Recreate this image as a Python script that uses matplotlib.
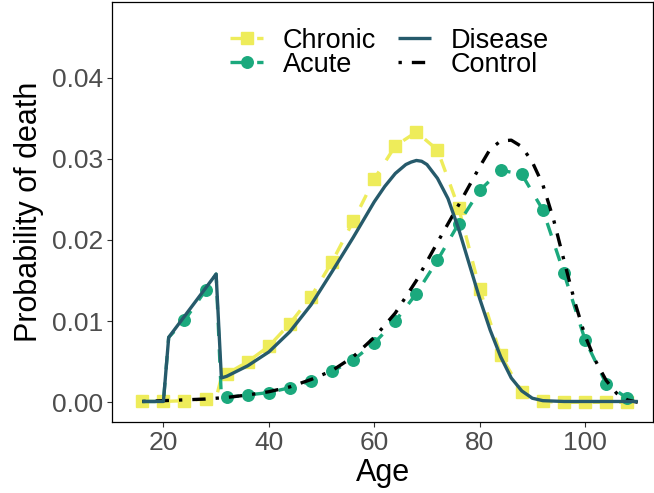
import matplotlib
matplotlib.use("Agg")
import matplotlib.pyplot as plt
from matplotlib.ticker import FormatStrFormatter

plt.rcParams['font.family'] = ['Liberation Sans', 'DejaVu Sans']

# ---- data ----
chronic_age = [16, 20, 24, 28, 30, 31, 32, 36, 40, 44, 48, 52, 56, 60, 64, 68,
               72, 76, 80, 84, 88, 92, 96, 100, 104, 108]
chronic_p = [0.0001, 0.0001, 0.0002, 0.0004, 0.0005, 0.0031, 0.0035, 0.0050,
             0.0069, 0.0097, 0.0130, 0.0173, 0.0223, 0.0275, 0.0316, 0.0333,
             0.0311, 0.0240, 0.0140, 0.0058, 0.0013, 0.0001, 0.0000, 0.0000,
             0.0000, 0.0000]
chronic_marked = [16, 20, 24, 28, 32, 36, 40, 44, 48, 52, 56, 60, 64, 68, 72,
                  76, 80, 84, 88, 92, 96, 100, 104, 108]

acute_age = [16, 20, 21, 24, 28, 30, 31, 32, 36, 40, 44, 48, 52, 56, 60, 64,
             68, 72, 76, 80, 84, 88, 92, 96, 100, 104, 108]
acute_p = [0.0001, 0.0001, 0.0080, 0.0101, 0.0138, 0.0158, 0.0005, 0.0006,
           0.0009, 0.0012, 0.0018, 0.0026, 0.0038, 0.0052, 0.0073, 0.0100,
           0.0134, 0.0175, 0.0220, 0.0261, 0.0286, 0.0281, 0.0237, 0.0159,
           0.0077, 0.0023, 0.0005]
acute_marked = [24, 28, 32, 36, 40, 44, 48, 52, 56, 60, 64, 68, 72, 76, 80,
                84, 88, 92, 96, 100, 104, 108]

disease_age = [16, 20, 21, 30, 31, 32, 36, 40, 44, 48, 52, 56, 60, 62, 64, 66,
               67, 68, 69, 70, 72, 74, 76, 78, 80, 82, 84, 86, 88, 90, 92, 96,
               100, 104, 110]
disease_p = [0.0001, 0.0001, 0.0080, 0.0158, 0.0030, 0.0032, 0.0045, 0.0062,
             0.0087, 0.0120, 0.0161, 0.0203, 0.0247, 0.0266, 0.0282, 0.0293,
             0.0296, 0.0298, 0.0297, 0.0293, 0.0276, 0.0251, 0.0214, 0.0171,
             0.0128, 0.0089, 0.0056, 0.0030, 0.0014, 0.0005, 0.0002, 0.0001,
             0.0001, 0.0001, 0.0001]

control_age = [16, 20, 24, 28, 32, 36, 40, 44, 48, 52, 56, 60, 64, 68, 72, 76,
               80, 82, 84, 86, 88, 90, 92, 94, 96, 98, 100, 102, 104, 106,
               108, 110]
control_p = [0.0001, 0.0002, 0.0003, 0.0004, 0.0006, 0.0009, 0.0013, 0.0019,
             0.0028, 0.0039, 0.0056, 0.0080, 0.0110, 0.0150, 0.0197, 0.0243,
             0.0290, 0.0312, 0.0322, 0.0323, 0.0315, 0.0296, 0.0268, 0.0226,
             0.0175, 0.0125, 0.0082, 0.0051, 0.0027, 0.0011, 0.0003, 0.0000]

x_ticks = [20, 40, 60, 80, 100]
y_ticks = [0.00, 0.01, 0.02, 0.03, 0.04]

# ---- style ----
c_chronic = '#EEEC5A'
c_acute = '#1BA97D'
c_disease = '#265A6B'
c_control = '#000000'
lw = 2.4

fig = plt.figure(figsize=(6.54, 4.93), dpi=100)
ax = fig.add_axes([0.1717, 0.144, 0.9985 - 0.1717, 0.996 - 0.144])

chr_idx = [i for i, a in enumerate(chronic_age) if a in chronic_marked]
ac_idx = [i for i, a in enumerate(acute_age) if a in acute_marked]

ax.plot(chronic_age, chronic_p, color=c_chronic, lw=lw, dashes=(4, 4),
        marker='s', markersize=8.8, markevery=chr_idx, label='Chronic')
ax.plot(acute_age, acute_p, color=c_acute, lw=lw, dashes=(4, 4),
        marker='o', markersize=8.3, markevery=ac_idx, label='Acute')
ax.plot(control_age, control_p, color=c_control, lw=lw,
        dashes=(1, 3, 4, 3), label='Control')
ax.plot(disease_age, disease_p, color=c_disease, lw=lw,
        solid_capstyle='butt', solid_joinstyle='round', label='Disease')

ax.set_xlim(10.3, 112.9)
ax.set_ylim(-0.00243, 0.04933)
ax.set_xticks(x_ticks)
ax.set_yticks(y_ticks)
ax.yaxis.set_major_formatter(FormatStrFormatter('%.2f'))

for s in ax.spines.values():
    s.set_linewidth(0.9)
    s.set_color('black')
ax.tick_params(axis='both', direction='out', length=3.5, width=0.8,
               color='#333333', labelcolor='#4D4D4D', labelsize=19, pad=3)

ax.set_xlabel('Age', fontsize=22, labelpad=2)
ax.set_ylabel('Probability of death', fontsize=22, labelpad=6)

h, l = ax.get_legend_handles_labels()
order = [0, 1, 3, 2]
leg = ax.legend([h[i] for i in order], [l[i] for i in order], ncol=2,
                loc='upper center', bbox_to_anchor=(0.513, 1.0), frameon=False,
                fontsize=19.5, handlelength=1.2, handletextpad=0.75,
                columnspacing=0.8, labelspacing=-0.08, borderaxespad=0.55,
                numpoints=1, markerscale=1.0)

fig.savefig('out.png', dpi=100)
